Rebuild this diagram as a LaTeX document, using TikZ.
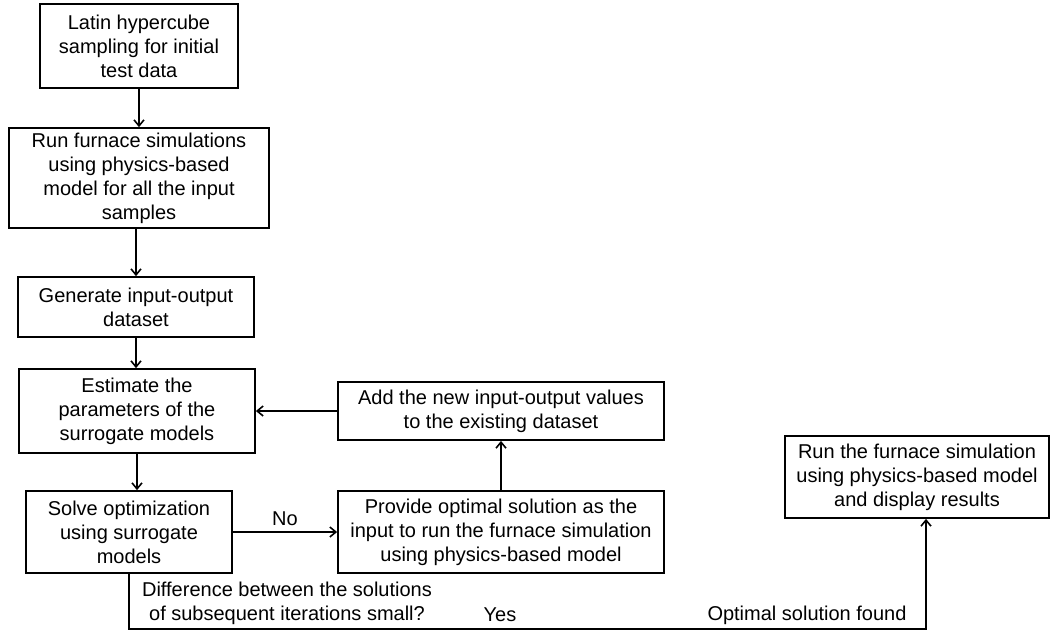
\documentclass[tikz,border=0pt]{standalone}
\usepackage{fontspec}
\setmainfont{Liberation Sans}
\usetikzlibrary{arrows.meta}
\begin{document}
\begin{tikzpicture}[x=1pt,y=-1pt,line width=1.8pt,
  box/.style={draw,align=center,inner sep=2pt,font=\fontsize{20}{24}\selectfont},
  lbl/.style={font=\fontsize{20}{24}\selectfont,align=center},
  arr/.style={line width=1.8pt,-{Straight Barb[length=6pt,width=10pt,line width=1.6pt]}}]
  \useasboundingbox (0,0) rectangle (1054,633);
  % left column
  \node[box,minimum width=198pt,minimum height=84pt] (lhs) at (139,46) {Latin hypercube\\sampling for initial\\test data};
  \node[box,minimum width=260pt,minimum height=100pt] (sim) at (139,178) {Run furnace simulations\\using physics-based\\model for all the input\\samples};
  \node[box,minimum width=236pt,minimum height=60pt] (gen) at (136,307) {Generate input-output\\dataset};
  \node[box,minimum width=236pt,minimum height=84pt] (est) at (137,411) {Estimate the\\parameters of the\\surrogate models};
  \node[box,minimum width=206pt,minimum height=82pt] (opt) at (129,532) {Solve optimization\\using surrogate\\models};
  % loop back
  \node[box,minimum width=326pt,minimum height=82pt] (prov) at (501,532) {Provide optimal solution as the\\input to run the furnace simulation\\using physics-based model};
  \node[box,minimum width=326pt,minimum height=58pt] (add) at (501,411) {Add the new input-output values\\to the existing dataset};
  \node[box,minimum width=264pt,minimum height=82pt] (fin) at (917,477) {Run the furnace simulation\\using physics-based model\\and display results};
  \coordinate (corner) at (926,629);
  \draw[arr] (lhs.south) -- (lhs.south |- sim.north);
  \draw[arr] (gen.north |- sim.south) -- (gen.north);
  \draw[arr] (gen.south) -- (gen.south |- est.north);
  \draw[arr] (est.south) -- (est.south |- opt.north);
  \draw[arr] (opt.east) -- node[lbl,above=2pt] {No} (prov.west);
  \draw[arr] (prov.north) -- (add.south);
  \draw[arr] (add.west) -- (add.west -| est.east);
  \draw[arr] (opt.south) |- (corner) -- (corner |- fin.south);
  \node[lbl] (diff) at (287,603) {Difference between the solutions\\of subsequent iterations small?};
  \node[lbl] (yes) at (500,615) {Yes};
  \node[lbl] (found) at (807,615) {Optimal solution found};
\end{tikzpicture}
\end{document}
